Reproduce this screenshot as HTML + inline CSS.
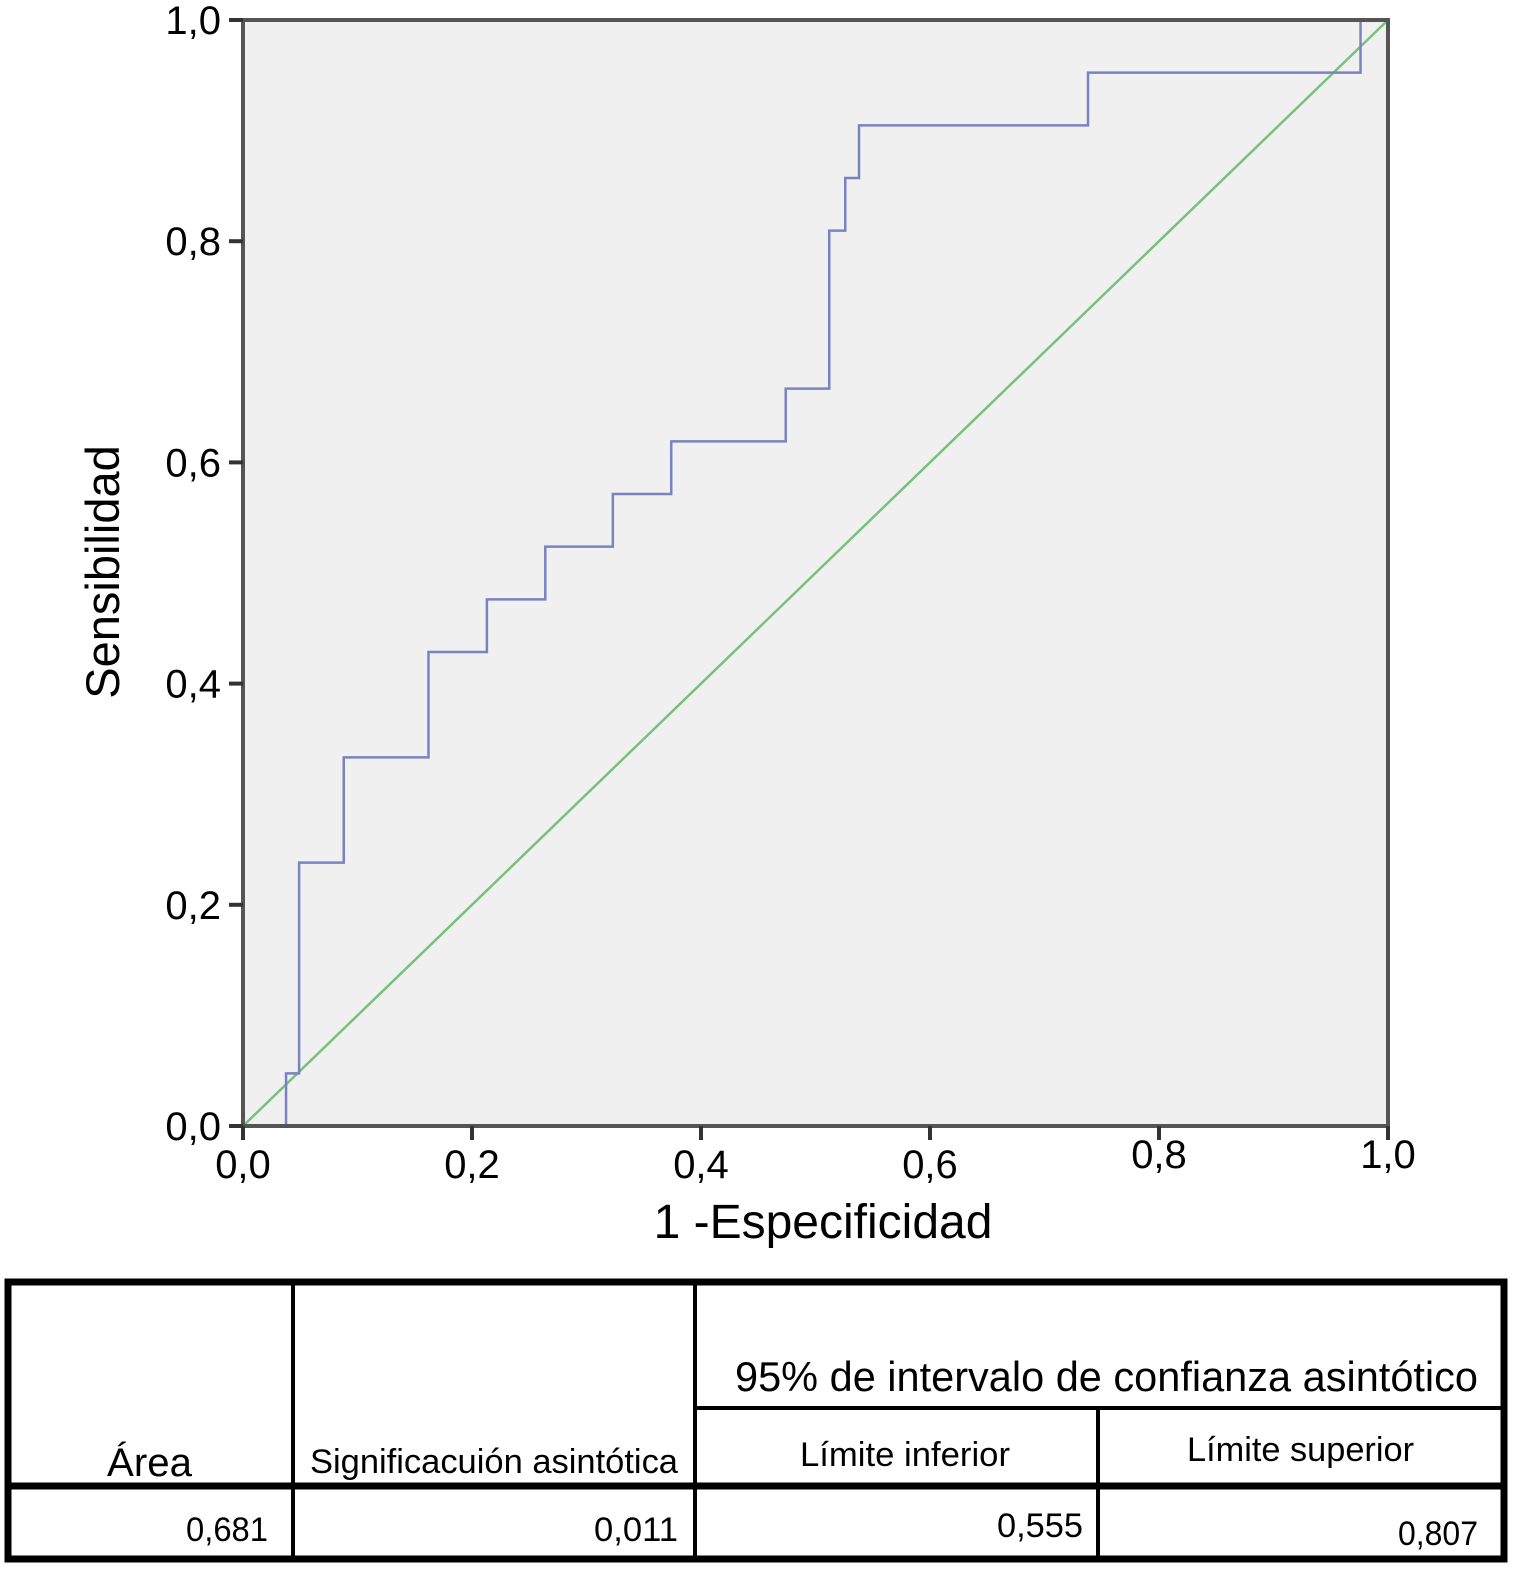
<!DOCTYPE html>
<html><head><meta charset="utf-8"><style>
html,body{margin:0;padding:0;background:#fff;}
svg{display:block;font-family:"Liberation Sans",Arial,sans-serif;}
</style></head><body>
<svg id="chart" width="1516" height="1570" viewBox="0 0 1516 1570">
  <rect x="243" y="20" width="1145" height="1106" fill="#f0f0f0"/>
  <g id="marks"></g>
  <g id="axes"></g>
  <text x="103" y="572" font-size="47" text-anchor="middle" transform="rotate(-90 103 572)" dy="16">Sensibilidad</text>
  <text x="823" y="1238" font-size="48" text-anchor="middle">1 -Especificidad</text>

  <g stroke="#000" fill="none">
    <path d="M8 1282 H1504 V1559 H8 Z" stroke-width="7"/>
    <line x1="8" y1="1486" x2="1504" y2="1486" stroke-width="7"/>
    <line x1="293" y1="1282" x2="293" y2="1559" stroke-width="4"/>
    <line x1="695" y1="1282" x2="695" y2="1559" stroke-width="4"/>
    <line x1="1098" y1="1408" x2="1098" y2="1559" stroke-width="4"/>
    <line x1="695" y1="1408" x2="1504" y2="1408" stroke-width="4"/>
  </g>
  <g fill="#000">
    <text x="107" y="1476" font-size="40" textLength="85" lengthAdjust="spacingAndGlyphs">Área</text>
    <text x="310" y="1473" font-size="34" textLength="368" lengthAdjust="spacingAndGlyphs">Significacuión asintótica</text>
    <text x="735" y="1391" font-size="42" textLength="743" lengthAdjust="spacingAndGlyphs">95% de intervalo de confianza asintótico</text>
    <text x="800" y="1466" font-size="34" textLength="210" lengthAdjust="spacingAndGlyphs">Límite inferior</text>
    <text x="1187" y="1461" font-size="34" textLength="227" lengthAdjust="spacingAndGlyphs">Límite superior</text>
    <text x="186" y="1541" font-size="34" textLength="82" lengthAdjust="spacingAndGlyphs">0,681</text>
    <text x="594" y="1541" font-size="34" textLength="84" lengthAdjust="spacingAndGlyphs">0,011</text>
    <text x="997" y="1537" font-size="34" textLength="86" lengthAdjust="spacingAndGlyphs">0,555</text>
    <text x="1398" y="1545" font-size="34" textLength="80" lengthAdjust="spacingAndGlyphs">0,807</text>
  </g>
</svg>
<script>
const fprValues = [0, 0.0376, 0.049, 0.088, 0.162, 0.213, 0.264, 0.323, 0.374, 0.474, 0.512, 0.526, 0.538, 0.738, 0.976, 1.0];
const tprValues = [0, 1/21, 5/21, 7/21, 9/21, 10/21, 11/21, 12/21, 13/21, 14/21, 17/21, 18/21, 19/21, 20/21, 1.0, 1.0];
const referenceLine = [0, 1];
const xTickLabels = ["0,0","0,2","0,4","0,6","0,8","1,0"];
const yTickLabels = ["0,0","0,2","0,4","0,6","0,8","1,0"];
const tickValues = [0, 0.2, 0.4, 0.6, 0.8, 1.0];

const X0=243, X1=1388, Y0=1126, Y1=20;
const sx = v => X0 + v*(X1-X0);
const sy = v => Y0 - v*(Y0-Y1);
const NS = "http://www.w3.org/2000/svg";
const marks = document.getElementById('marks');
const axes = document.getElementById('axes');

const diag = document.createElementNS(NS,'line');
diag.setAttribute('x1', sx(referenceLine[0])); diag.setAttribute('y1', sy(referenceLine[0]));
diag.setAttribute('x2', sx(referenceLine[1])); diag.setAttribute('y2', sy(referenceLine[1]));
diag.setAttribute('stroke', '#79c07c'); diag.setAttribute('stroke-width', '2.5');


marks.appendChild(diag);

let d = 'M' + sx(fprValues[0]) + ' ' + sy(tprValues[0]);
for (let i=1;i<fprValues.length;i++){
  d += ' H' + sx(fprValues[i]) + ' V' + sy(tprValues[i]);
}
const roc = document.createElementNS(NS,'path');
roc.setAttribute('d', d);
roc.setAttribute('fill','none');
roc.setAttribute('stroke','#7a82c2');
roc.setAttribute('stroke-width','2.5');


marks.appendChild(roc);

const frame = document.createElementNS(NS,'rect');
frame.setAttribute('x', X0); frame.setAttribute('y', Y1);
frame.setAttribute('width', X1-X0); frame.setAttribute('height', Y0-Y1);
frame.setAttribute('fill','none'); frame.setAttribute('stroke','#555'); frame.setAttribute('stroke-width','4');


axes.appendChild(frame);

tickValues.forEach((v,i)=>{
  const ty = document.createElementNS(NS,'line');
  ty.setAttribute('x1', X0-14); ty.setAttribute('x2', X0); ty.setAttribute('y1', sy(v)); ty.setAttribute('y2', sy(v));
  ty.setAttribute('stroke','#333'); ty.setAttribute('stroke-width','4');
  
  
  axes.appendChild(ty);
  const ly = document.createElementNS(NS,'text');
  ly.setAttribute('x', X0-22); ly.setAttribute('y', sy(v)+14);
  ly.setAttribute('font-size','40'); ly.setAttribute('text-anchor','end');
  ly.textContent = yTickLabels[i];
  
  
  axes.appendChild(ly);
  const tx = document.createElementNS(NS,'line');
  tx.setAttribute('x1', sx(v)); tx.setAttribute('x2', sx(v)); tx.setAttribute('y1', Y0); tx.setAttribute('y2', Y0+14);
  tx.setAttribute('stroke','#333'); tx.setAttribute('stroke-width','4');
  
  
  axes.appendChild(tx);
  const lx = document.createElementNS(NS,'text');
  lx.setAttribute('x', sx(v)); lx.setAttribute('y', (v>=0.8?1168:1178));
  lx.setAttribute('font-size','40'); lx.setAttribute('text-anchor','middle');
  lx.textContent = xTickLabels[i];
  
  
  axes.appendChild(lx);
});
</script>
</body></html>
